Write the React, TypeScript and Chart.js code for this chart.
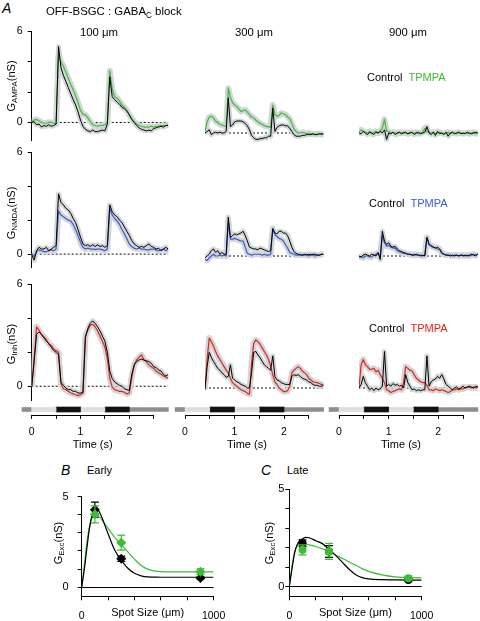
import React, { useEffect, useRef } from 'react';
import { Chart, registerables } from 'chart.js';
Chart.register(...registerables);

const FONT = "'Liberation Sans', Arial, Helvetica, sans-serif";

// ---------------- data ----------------
const TIME = Array.from({ length: 57 }, (_, i) => Math.round(i * 5) / 100); // s
const TIME_LABELED = [0, 1, 2];
const STIM_EDGES = [-0.2, 0, 0.5, 1, 1.5, 2, 2.8];
const STIM_SHADES = ['dark', 'light', 'black', 'light', 'black', 'dark'];
const COLUMN_TITLES = ['100 μm', '300 μm', '900 μm'];

const AMPA_100_CONTROL = [0.0,0.05,-0.15,-0.1,-0.3,-0.2,-0.25,-0.15,-0.25,-0.2,
  -0.1,5.0,3.6,3.1,2.7,2.3,1.9,1.5,1.15,0.7,
  0.15,-0.25,-0.45,-0.55,-0.6,-0.5,-0.6,-0.6,-0.55,-0.5,
  -0.55,-0.1,3.0,1.7,1.5,1.35,1.2,1.0,0.9,0.75,
  0.5,0.2,0.0,-0.2,-0.35,-0.45,-0.5,-0.55,-0.5,-0.55,
  -0.4,-0.35,-0.3,-0.25,-0.3,-0.2,-0.2];
const AMPA_100_TPMPA = [0.05,0.15,0.2,0.1,0.0,-0.05,-0.05,0.0,0.0,-0.05,
  -0.1,4.4,4.0,3.7,3.3,2.9,2.5,2.15,1.75,1.3,
  0.8,0.55,0.5,0.3,0.05,-0.15,-0.2,-0.25,-0.2,-0.2,
  -0.15,0.0,3.4,2.2,1.7,1.6,1.4,1.15,1.0,0.8,
  0.5,0.25,0.05,-0.1,-0.2,-0.25,-0.3,-0.3,-0.3,-0.25,
  -0.3,-0.25,-0.25,-0.2,-0.2,-0.2,-0.15];
const AMPA_300_CONTROL = [0.0,0.1,0.2,-0.1,0.0,0.05,0.0,0.05,0.0,0.0,
  0.1,2.2,0.4,0.5,0.7,0.75,0.75,0.75,0.7,0.6,
  0.45,0.2,-0.15,-0.3,-0.4,-0.4,-0.35,-0.35,-0.3,-0.3,
  -0.2,-0.2,1.55,0.1,0.35,0.45,0.5,0.5,0.45,0.45,
  0.3,0.1,-0.1,-0.2,-0.2,-0.2,-0.15,-0.15,-0.1,-0.1,
  -0.1,-0.05,-0.1,-0.1,-0.05,-0.05,-0.05];
const AMPA_300_TPMPA = [0.1,0.7,1.0,1.05,0.95,0.75,0.65,0.55,0.5,0.45,
  0.4,2.8,2.2,1.9,1.75,1.65,1.5,1.35,1.4,1.45,
  1.3,1.15,1.0,0.95,0.8,0.7,0.6,0.55,0.45,0.4,
  0.4,0.35,1.75,1.15,1.05,1.1,1.25,1.2,1.15,1.0,
  0.9,0.6,0.25,0.1,0.0,0.0,0.05,0.0,-0.05,0.0,
  -0.05,-0.05,-0.1,-0.05,-0.05,-0.1,-0.05];
const AMPA_900_CONTROL = [0.0,-0.05,0.1,0.0,-0.1,0.05,0.0,-0.1,0.05,0.0,
  0.1,0.0,0.2,-0.4,0.0,-0.05,0.05,-0.1,0.0,0.05,
  -0.05,0.0,0.05,-0.05,0.0,0.05,-0.1,0.0,0.05,-0.05,
  0.0,0.05,0.4,0.0,-0.1,0.05,-0.15,0.1,-0.05,0.0,
  -0.1,0.05,-0.2,0.0,0.05,-0.05,0.0,0.05,-0.05,0.0,
  -0.05,0.05,0.0,-0.05,0.0,0.05,0.0];
const AMPA_900_TPMPA = [0.05,0.2,0.1,0.05,0.0,0.1,-0.05,0.05,0.1,0.0,
  0.1,0.3,0.85,0.1,0.1,0.0,0.05,0.0,-0.05,0.05,
  0.0,0.05,0.0,-0.05,0.05,0.0,0.0,0.05,-0.05,0.0,
  0.05,0.3,0.1,0.05,0.0,0.05,-0.05,0.0,0.05,0.0,
  -0.05,0.0,0.05,-0.05,0.0,0.0,-0.05,0.05,0.0,-0.05,
  0.0,0.0,-0.05,0.0,0.05,-0.05,0.0];

const NMDA_100_CONTROL = [-0.05,-0.35,0.2,0.4,0.3,0.3,0.4,0.2,0.3,0.4,
  0.5,3.55,3.05,2.9,2.7,2.6,2.4,2.1,1.85,1.45,
  1.0,0.6,0.5,0.55,0.45,0.55,0.45,0.55,0.45,0.5,
  0.4,0.5,2.9,2.5,2.3,2.2,2.0,1.85,1.6,1.35,
  1.1,0.8,0.6,0.5,0.4,0.45,0.4,0.5,0.6,0.45,
  0.4,0.3,0.35,0.2,0.3,0.4,0.3];
const NMDA_100_TPMPA = [0.05,-0.15,0.15,0.25,0.2,0.15,0.15,0.2,0.25,0.2,
  0.3,2.55,2.3,2.2,2.1,2.0,1.95,1.75,1.45,1.1,
  0.7,0.4,0.3,0.35,0.3,0.3,0.28,0.3,0.3,0.25,
  0.2,0.3,2.7,2.3,2.1,1.95,1.75,1.45,1.2,0.9,
  0.6,0.45,0.35,0.3,0.35,0.3,0.3,0.25,0.25,0.3,
  0.3,0.25,0.2,0.25,0.3,0.2,0.3];
const NMDA_300_CONTROL = [-0.1,0.0,0.1,0.3,0.4,0.2,0.3,0.1,0.2,0.1,
  0.1,2.2,1.05,1.15,1.25,1.2,1.25,1.3,1.4,1.15,
  0.85,0.5,0.45,0.4,0.4,0.35,0.45,0.4,0.35,0.3,
  0.25,0.3,1.55,1.3,1.25,1.4,1.4,1.3,1.3,1.15,
  0.85,0.5,0.25,0.15,0.1,0.05,0.05,0.1,0.05,0.1,
  0.05,0.1,0.1,0.05,0.05,0.1,0.1];
const NMDA_300_TPMPA = [-0.2,-0.25,-0.1,0.0,0.1,0.0,0.0,0.05,0.0,0.05,
  0.0,1.9,0.95,0.95,1.0,0.95,0.9,0.85,0.85,0.5,
  0.15,0.1,0.05,0.1,0.1,0.1,0.1,0.05,0.1,0.05,
  0.05,0.1,1.55,1.2,1.1,1.0,0.95,0.85,0.65,0.45,
  0.2,0.15,0.1,0.05,0.05,0.1,0.05,0.05,0.1,0.0,
  0.1,0.05,0.0,0.05,0.05,0.1,0.1];
const NMDA_900_CONTROL = [0.0,-0.05,0.05,0.1,0.05,0.0,0.1,0.05,0.0,0.2,
  -0.2,1.4,0.85,0.65,0.75,0.55,0.5,0.55,0.4,0.3,
  0.25,0.2,0.15,0.1,0.1,0.05,0.05,0.1,0.05,0.0,
  0.05,0.0,1.05,0.65,0.55,0.5,0.45,0.5,0.4,0.2,
  0.1,0.05,0.05,0.0,0.05,0.0,0.05,0.0,0.05,0.0,
  0.05,0.0,0.05,0.1,0.05,0.0,0.15];
const NMDA_900_TPMPA = [-0.05,-0.05,-0.1,0.0,0.0,-0.05,-0.05,0.05,0.1,0.15,
  -0.05,1.15,0.75,0.55,0.6,0.5,0.45,0.45,0.3,0.25,
  0.2,0.15,0.15,0.1,0.1,0.05,0.1,0.05,0.05,0.05,
  0.0,0.05,1.05,0.65,0.6,0.5,0.45,0.4,0.35,0.15,
  0.1,0.05,0.05,0.05,0.0,0.05,0.05,0.0,0.05,0.05,
  0.0,0.05,0.0,0.05,0.1,0.05,0.1];

const INH_100_CONTROL = [-0.05,1.45,3.05,3.2,3.05,2.85,2.65,2.5,2.3,2.1,
  2.0,1.85,0.25,0.05,-0.1,-0.2,-0.2,-0.3,-0.3,-0.4,
  -0.4,-0.35,2.85,3.4,3.7,3.85,3.7,3.5,3.25,2.95,
  2.65,2.0,0.9,0.45,0.25,0.15,0.05,0.0,-0.15,-0.2,
  -0.25,0.7,1.25,1.45,1.55,1.6,1.55,1.5,1.45,1.35,
  1.15,1.1,0.95,0.9,0.7,0.6,0.7];
const INH_100_TPMPA = [-0.05,1.65,3.5,3.3,3.05,2.9,2.75,2.5,2.4,2.2,
  2.1,2.0,0.15,-0.15,-0.2,-0.3,-0.4,-0.45,-0.5,-0.55,
  -0.5,-0.4,2.95,3.3,3.6,3.65,3.5,3.25,2.95,2.65,
  2.3,1.65,0.45,-0.05,-0.2,-0.25,-0.3,-0.3,-0.35,-0.45,
  -0.4,0.5,1.25,1.55,1.7,1.85,1.55,1.45,1.25,1.15,
  1.05,0.9,0.8,0.7,0.6,0.55,0.45];
const INH_300_CONTROL = [-0.1,1.2,2.0,1.7,1.5,1.3,1.1,1.0,0.85,0.75,
  0.6,0.65,1.3,0.55,0.45,0.35,0.3,0.2,0.15,0.1,
  0.0,0.0,0.85,2.0,2.05,1.85,1.7,1.5,1.3,1.2,
  1.1,1.0,1.8,0.65,0.45,0.4,0.3,0.25,0.2,0.2,
  0.2,0.65,0.75,0.7,0.75,0.65,0.55,0.5,0.45,0.35,
  0.3,0.2,0.15,0.15,0.1,0.1,0.15];
const INH_300_TPMPA = [0.0,1.6,2.8,2.6,2.35,2.05,1.8,1.6,1.4,1.2,
  1.0,0.85,0.55,0.3,0.2,0.1,0.0,-0.1,-0.15,-0.2,
  -0.3,-0.35,1.4,2.5,2.7,2.6,2.45,2.25,2.05,1.85,
  1.6,1.2,0.75,0.35,0.2,0.0,-0.1,-0.2,-0.2,-0.15,
  0.1,0.85,1.0,1.1,1.2,1.1,0.95,0.85,0.75,0.55,
  0.45,0.35,0.32,0.3,0.25,0.2,0.2];
const INH_900_CONTROL = [0.0,0.2,0.65,0.3,0.1,-0.1,0.0,-0.15,0.0,-0.1,
  -0.05,0.1,2.05,0.1,0.2,0.1,0.25,0.15,0.2,0.1,
  0.15,0.0,0.75,0.3,0.1,-0.1,-0.05,-0.15,-0.1,-0.15,
  -0.1,-0.1,1.8,0.1,0.35,0.45,0.5,0.65,0.55,0.75,
  0.5,0.2,0.1,0.0,-0.1,0.0,0.05,-0.05,0.0,0.1,
  0.0,0.05,0.1,0.05,0.0,0.1,0.05];
const INH_900_TPMPA = [0.0,1.3,1.6,1.3,1.2,1.05,1.05,1.1,0.9,1.0,
  0.75,0.55,0.3,-0.1,-0.15,-0.25,-0.2,-0.15,-0.1,-0.05,
  -0.1,0.3,1.2,1.1,1.0,0.95,0.75,0.55,0.45,0.35,
  0.3,0.3,0.15,-0.1,-0.1,-0.15,-0.05,-0.1,-0.15,-0.1,
  -0.15,-0.2,-0.25,-0.2,-0.1,-0.1,-0.05,-0.1,-0.05,-0.05,
  0.0,0.05,0.05,0.0,0.05,0.0,0.1];

// Panels B, C
const SPOT_SIZES = [100, 300, 900]; // µm
const EARLY_CONTROL = [4.28, 1.57, 0.51];
const EARLY_CONTROL_SEM = [0.42, 0.15, 0.05];
const EARLY_TPMPA = [4.02, 2.46, 0.86];
const EARLY_TPMPA_SEM = [0.47, 0.41, 0.15];
const LATE_CONTROL = [2.22, 1.8, 0.34];
const LATE_CONTROL_SEM = [0.17, 0.3, 0.06];
const LATE_TPMPA = [1.88, 1.8, 0.43];
const LATE_TPMPA_SEM = [0.26, 0.41, 0.1];
const FIT_SIZES = [0, 20, 40, 60, 80, 100, 125, 150, 200, 250, 300, 350, 400, 450, 500, 550, 600, 700, 800, 1000];
const EARLY_CONTROL_FIT = [0, 1.0, 2.2, 3.3, 4.0, 4.3, 4.25, 3.9, 2.95, 2.05, 1.5, 1.05, 0.77, 0.63, 0.57, 0.56, 0.55, 0.55, 0.55, 0.55];
const EARLY_TPMPA_FIT = [0, 1.2, 2.5, 3.4, 3.9, 4.05, 3.95, 3.75, 3.25, 2.75, 2.35, 1.95, 1.55, 1.2, 1.0, 0.9, 0.86, 0.85, 0.85, 0.85];
const LATE_CONTROL_FIT = [0, 0.9, 1.7, 2.15, 2.35, 2.45, 2.52, 2.5, 2.35, 2.2, 1.92, 1.6, 1.25, 0.9, 0.62, 0.46, 0.39, 0.35, 0.34, 0.33];
const LATE_TPMPA_FIT = [0, 1.0, 1.8, 2.1, 2.2, 2.22, 2.18, 2.14, 2.05, 1.93, 1.8, 1.62, 1.45, 1.27, 1.1, 0.92, 0.78, 0.6, 0.5, 0.44];

// ---------------- styles ----------------
const GREEN = '#3dbb35';
const BLUE = '#3b5ad6';
const RED = '#e2231a';
const BAND = '#d2d6d6';
const STIM_COLORS: Record<string, string> = { dark: '#8e8e8e', light: '#dedede', black: '#111111' };
const TEXT_SIZE = 11;

const COL_X0 = [31.7, 185, 339];
const COL_PX_PER_S = [48.8, 49.5, 49.6];

const ROWS = [
  { name: 'AMPA', color: GREEN, pxPerNs: 16, zeros: [124, 133, 133], yMin: -1.2, legendLeft: 367, legendY: 77,
    series: [[AMPA_100_CONTROL, AMPA_100_TPMPA], [AMPA_300_CONTROL, AMPA_300_TPMPA], [AMPA_900_CONTROL, AMPA_900_TPMPA]], titleY: 86 },
  { name: 'NMDA', color: BLUE, pxPerNs: 17.67, zeros: [256, 256, 256], yMin: -0.8, legendLeft: 369, legendY: 203,
    series: [[NMDA_100_CONTROL, NMDA_100_TPMPA], [NMDA_300_CONTROL, NMDA_300_TPMPA], [NMDA_900_CONTROL, NMDA_900_TPMPA]], titleY: 213 },
  { name: 'Inh', color: RED, pxPerNs: 17.83, zeros: [388, 388, 388], yMin: -0.85, legendLeft: 369, legendY: 328,
    series: [[INH_100_CONTROL, INH_100_TPMPA], [INH_300_CONTROL, INH_300_TPMPA], [INH_900_CONTROL, INH_900_TPMPA]], titleY: 344 },
];

type Area = { l: number; t: number; w: number; h: number };
function fitBox(a: Area, o: { axisL?: number; axisB?: number; exL?: number; exR?: number; exT?: number; exB?: number }) {
  const axisL = o.axisL || 0, axisB = o.axisB || 0;
  const left = Math.floor(a.l - axisL - (o.exL || 0));
  const top = Math.floor(a.t - (o.exT || 0));
  const right = Math.ceil(a.l + a.w + (o.exR || 0));
  const bottom = Math.ceil(a.t + a.h + axisB + (o.exB || 0));
  return {
    left, top, width: right - left, height: bottom - top,
    padding: { left: a.l - axisL - left, top: a.t - top, right: right - (a.l + a.w), bottom: bottom - (a.t + a.h) - axisB },
  };
}

const tickFont = { family: FONT, size: 10.5 };
const pts = (arr: number[]) => TIME.map((t, i) => ({ x: t, y: arr[i] }));
const isLabeled = (v: number, list: number[]) => list.some((l) => Math.abs(l - v) < 1e-6);

function ChartCanvas({ box, config }: { box: any; config: any }) {
  const ref = useRef<HTMLCanvasElement>(null);
  useEffect(() => {
    const chart = new Chart(ref.current as HTMLCanvasElement, config);
    return () => chart.destroy();
  }, []);
  return (
    <canvas ref={ref} width={box.width} height={box.height}
      style={{ position: 'absolute', left: box.left, top: box.top, width: box.width, height: box.height }} />
  );
}

function baseOptions(padding: any) {
  return {
    animation: false, responsive: false, maintainAspectRatio: false, devicePixelRatio: 1,
    events: [],
    layout: { padding, autoPadding: false },
    plugins: { legend: { display: false }, tooltip: { enabled: false }, title: { display: false } },
  };
}

function tracePanel(r: number, c: number) {
  const row = ROWS[r];
  const [ctrl, drug] = row.series[c];
  const zero = row.zeros[c];
  const area = { l: COL_X0[c], t: zero - 6 * row.pxPerNs, w: 2.8 * COL_PX_PER_S[c], h: (6 - row.yMin) * row.pxPerNs };
  const showY = c === 0;
  const box = fitBox(area, { axisL: showY ? 20 : 0, exT: 8, exB: 8, exR: 3 });
  const line = (data: any, color: string, width: number, extra: any = {}) => ({
    data, borderColor: color, borderWidth: width, pointRadius: 0, fill: false, tension: 0, borderJoinStyle: 'round', ...extra,
  });
  const config = {
    type: 'line',
    data: {
      datasets: [
        line(pts(ctrl), '#000', 1.0),
        line(pts(drug), row.color, 1.2),
        line(pts(ctrl), BAND, 5),
        line(pts(drug), BAND, 6),
        line(TIME.map((t) => ({ x: t, y: 0 })), '#000', 1, { borderDash: [2, 2] }),
      ],
    },
    options: {
      ...baseOptions(box.padding),
      scales: {
        x: { type: 'linear', min: 0, max: 2.8, display: false },
        y: {
          type: 'linear', min: row.yMin, max: 6, display: showY, position: 'left',
          border: { display: true, color: '#000', width: 1 },
          grid: { display: true, drawOnChartArea: false, drawTicks: true, tickLength: 4, color: '#000' },
          ticks: { stepSize: 2, includeBounds: false, padding: 5, color: '#000', font: tickFont,
            callback: (v: number) => (isLabeled(v, [0, 6]) ? String(v) : '') },
          afterFit: (s: any) => { s.width = 20; },
        },
      },
    },
  };
  return <ChartCanvas key={`t${r}${c}`} box={box} config={config} />;
}

function timePanel(c: number) {
  const area = { l: COL_X0[c], t: 404, w: 2.5 * COL_PX_PER_S[c], h: 11 };
  const axisH = 36.3;
  const box = fitBox(area, { axisB: axisH, exL: 13, exR: 17, exT: 2 });
  const config = {
    type: 'bar',
    data: {
      labels: ['stim'],
      datasets: STIM_SHADES.map((shade, i) => ({
        data: [[STIM_EDGES[i], STIM_EDGES[i + 1]]],
        backgroundColor: STIM_COLORS[shade],
        borderWidth: 0,
        barThickness: shade === 'black' ? 5 : 4,
        grouped: false,
        clip: false,
      })),
    },
    options: {
      ...baseOptions(box.padding),
      indexAxis: 'y',
      scales: {
        y: { type: 'category', display: false },
        x: {
          type: 'linear', min: 0, max: 2.5, position: 'bottom',
          border: { display: true, color: '#000', width: 1 },
          grid: { display: true, drawOnChartArea: false, drawTicks: true, tickLength: 4, color: '#000' },
          ticks: { stepSize: 0.5, autoSkip: false, maxRotation: 0, minRotation: 0, padding: 6.7, color: '#000', font: tickFont,
            callback: (v: number) => (isLabeled(v, TIME_LABELED) ? String(Math.round(v)) : '') },
          title: { display: true, text: 'Time (s)', color: '#000', font: { family: FONT, size: TEXT_SIZE }, padding: 0 },
          afterFit: (s: any) => { s.height = axisH; },
        },
      },
    },
  };
  return <ChartCanvas key={`time${c}`} box={box} config={config} />;
}

const errorBarPlugin = {
  id: 'errorBars',
  beforeDatasetDraw(chart: any, args: any) {
    const ds = chart.data.datasets[args.index];
    if (!ds.errors) return;
    const ys = chart.scales.y;
    const ctx = chart.ctx;
    ctx.save();
    ctx.strokeStyle = ds.borderColor;
    ctx.lineWidth = 1.2;
    args.meta.data.forEach((pt: any, i: number) => {
      const v = ds.data[i].y, e = ds.errors[i];
      const y1 = ys.getPixelForValue(v + e), y2 = ys.getPixelForValue(v - e);
      ctx.beginPath();
      ctx.moveTo(pt.x, y1); ctx.lineTo(pt.x, y2);
      ctx.moveTo(pt.x - 4, y1); ctx.lineTo(pt.x + 4, y1);
      ctx.moveTo(pt.x - 4, y2); ctx.lineTo(pt.x + 4, y2);
      ctx.stroke();
    });
    ctx.restore();
  },
};

function spotPanel(key: string, left: number, ctrl: number[], ctrlSem: number[], drug: number[], drugSem: number[],
  ctrlFit: number[], drugFit: number[], marker: string, radius: number, yPad: number) {
  const area = { l: left, t: 489, w: 138, h: 107.3 };
  const axisH = 23.3;
  const box = fitBox(area, { axisL: 28, axisB: axisH, exL: 2, exR: 15, exT: 8, exB: 1 });
  const markers = (vals: number[], sem: number[], color: string) => ({
    data: SPOT_SIZES.map((s, i) => ({ x: s, y: vals[i] })), errors: sem,
    pointStyle: marker, pointRadius: radius, backgroundColor: color, borderColor: color, borderWidth: 0, showLine: false,
  });
  const fit = (vals: number[], color: string) => ({
    data: FIT_SIZES.map((s, i) => ({ x: s, y: vals[i] })), showLine: true, pointRadius: 0,
    borderColor: color, borderWidth: 1.2, cubicInterpolationMode: 'monotone', fill: false,
  });
  const config = {
    type: 'scatter',
    data: {
      datasets: [
        markers(drug, drugSem, GREEN),
        markers(ctrl, ctrlSem, '#000'),
        fit(ctrlFit, '#000'),
        fit(drugFit, GREEN),
      ],
    },
    plugins: [errorBarPlugin],
    options: {
      ...baseOptions(box.padding),
      scales: {
        x: {
          type: 'linear', min: 0, max: 1000, position: 'bottom',
          border: { display: true, color: '#000', width: 1 },
          grid: { display: true, drawOnChartArea: false, drawTicks: true, tickLength: 4, color: '#000' },
          ticks: { stepSize: 200, autoSkip: false, maxRotation: 0, minRotation: 0, padding: 9.7, color: '#000', font: tickFont,
            callback: (v: number) => (isLabeled(v, [0, 1000]) ? String(v) : '') },
          title: { display: true, text: 'Spot Size (μm)', color: '#000', font: { family: FONT, size: TEXT_SIZE }, padding: 0 },
          afterFit: (s: any) => { s.height = axisH; },
        },
        y: {
          type: 'linear', min: -0.5, max: 5, position: 'left',
          border: { display: true, color: '#000', width: 1 },
          grid: { display: true, drawOnChartArea: true, drawTicks: true, tickLength: 4, tickColor: '#000', lineWidth: 1,
            color: (ctx: any) => (ctx.tick && Math.abs(ctx.tick.value) < 1e-9 ? '#000' : 'rgba(0,0,0,0)') },
          ticks: { stepSize: 1, includeBounds: false, padding: yPad, color: '#000', font: { family: FONT, size: TEXT_SIZE },
            callback: (v: number) => (isLabeled(v, [0, 5]) ? String(v) : '') },
          afterFit: (s: any) => { s.width = 28; },
        },
      },
    },
  };
  return <ChartCanvas key={key} box={box} config={config} />;
}

// ---------------- text helpers ----------------
function Txt({ x, y, children, size = TEXT_SIZE, anchor = 'left', italic = false, color = '#000' }: any) {
  return (
    <div style={{
      position: 'absolute', left: x, top: y, whiteSpace: 'nowrap', lineHeight: 1, fontSize: size, color,
      fontStyle: italic ? 'italic' : 'normal', fontFamily: FONT,
      transform: anchor === 'center' ? 'translate(-50%,-50%)' : 'translate(0,-50%)',
    }}>{children}</div>
  );
}
function VTxt({ x, y, children, size = 11 }: any) {
  return (
    <div style={{
      position: 'absolute', left: x, top: y, whiteSpace: 'nowrap', lineHeight: 1, fontSize: size, color: '#000',
      fontFamily: FONT, transform: 'translate(-50%,-50%) rotate(-90deg)',
    }}>{children}</div>
  );
}
const subStyle: React.CSSProperties = { fontSize: '72%', verticalAlign: '-0.3em', lineHeight: 0 };

export default function App() {
  const colCenters = [99, 254, 408];
  return (
    <div style={{ position: 'absolute', left: 0, top: 0, width: 480, height: 621, background: '#fff', overflow: 'hidden', fontFamily: FONT }}>
      {ROWS.map((_, r) => [0, 1, 2].map((c) => tracePanel(r, c)))}
      {[0, 1, 2].map((c) => timePanel(c))}
      {spotPanel('early', 81.7, EARLY_CONTROL, EARLY_CONTROL_SEM, EARLY_TPMPA, EARLY_TPMPA_SEM, EARLY_CONTROL_FIT, EARLY_TPMPA_FIT, 'rectRot', 5, 9)}
      {spotPanel('late', 289.3, LATE_CONTROL, LATE_CONTROL_SEM, LATE_TPMPA, LATE_TPMPA_SEM, LATE_CONTROL_FIT, LATE_TPMPA_FIT, 'circle', 4, 1)}

      <Txt x={2} y={8} size={14} italic>A</Txt>
      <Txt x={46} y={12} size={11.4}>OFF-BSGC : GABA<sub style={subStyle}>C</sub> block</Txt>
      {COLUMN_TITLES.map((t, i) => <Txt key={t} x={colCenters[i]} y={33} size={11.3} anchor="center">{t}</Txt>)}
      {ROWS.map((row) => (
        <Txt key={row.name} x={row.legendLeft} y={row.legendY}>
          Control <span style={{ color: row.color, marginLeft: 3 }}>TPMPA</span>
        </Txt>
      ))}
      {ROWS.map((row) => (
        <VTxt key={'v' + row.name} x={11} y={row.titleY}>G<sub style={subStyle}>{row.name}</sub>(nS)</VTxt>
      ))}
      <Txt x={61} y={470} size={14} italic>B</Txt>
      <Txt x={87} y={470}>Early</Txt>
      <Txt x={261} y={470} size={14} italic>C</Txt>
      <Txt x={287} y={470}>Late</Txt>
      <VTxt x={58} y={543}>G<sub style={subStyle}>Exc</sub>(nS)</VTxt>
      <VTxt x={269} y={543}>G<sub style={subStyle}>Exc</sub>(nS)</VTxt>
    </div>
  );
}
